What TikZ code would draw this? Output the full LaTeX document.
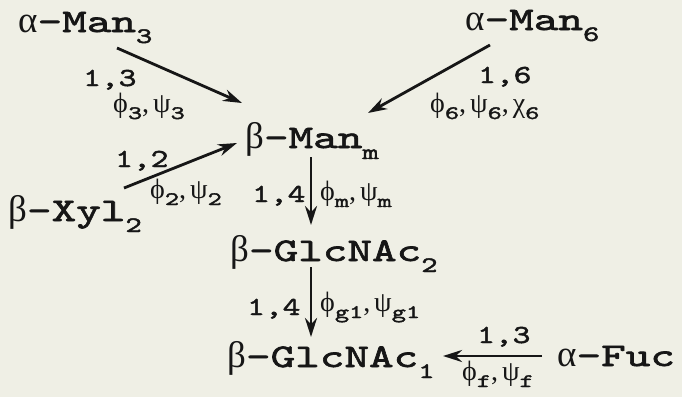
\documentclass[tikz,border=0pt]{standalone}
\usepackage{fontspec}
\newfontfamily\sugarmono[FakeStretch=1.42,FakeBold=2]{lmmono10-regular.otf}
\newfontfamily\linkmono[FakeStretch=1.3,FakeBold=1.8]{lmmono10-regular.otf}
\newfontfamily\grk{Liberation Serif}
\usetikzlibrary{arrows.meta,calc}
\definecolor{paper}{RGB}{239,239,229}
\definecolor{ink}{RGB}{22,22,22}

\newcommand{\sugarfont}{\fontsize{33}{33}\selectfont\sugarmono}
\newcommand{\linkfont}{\fontsize{26}{26}\selectfont\linkmono}
\newcommand{\anglefont}{\fontsize{28}{28}\selectfont\grk}
\newcommand{\gk}[1]{{\fontsize{37}{37}\selectfont\grk #1}}
\newcommand{\bigsub}[1]{\raisebox{-11pt}{\fontsize{22}{22}\selectfont\sugarmono #1}}
\newcommand{\lsub}[1]{\raisebox{-7pt}{\fontsize{19}{19}\selectfont\sugarmono #1}}
\newcommand{\sep}{,\hspace{4pt}}

\begin{document}
\begin{tikzpicture}[
    x=1pt, y=-1pt,
    sugar/.style={anchor=base west, inner sep=0pt, text=ink, font=\sugarfont},
    link/.style={anchor=base west, inner sep=0pt, text=ink, font=\linkfont},
    angle/.style={anchor=base west, inner sep=0pt, text=ink, font=\anglefont},
    arrow/.style={-{Stealth[length=19pt,width=12pt]}, line width=2.8pt, draw=ink}
]

% Paper
\fill[paper] (0,0) rectangle (682,397);
\useasboundingbox (0,0) rectangle (682,397);

% Residues
\node[sugar] (man3) at (18,32) {\gk{α}-Man\bigsub{3}};
\node[sugar] (man6) at (465,30) {\gk{α}-Man\bigsub{6}};
\node[sugar] (manm) at (245,148) {\gk{β}-Man\bigsub{m}};
\node[sugar] (xyl) at (8,221) {\gk{β}-Xyl\bigsub{2}};
\node[sugar] (glc2) at (230,261) {\gk{β}-GlcNAc\bigsub{2}};
\node[sugar] (glc1) at (227,367) {\gk{β}-GlcNAc\bigsub{1}};
\node[sugar] (fuc) at (557,366) {\gk{α}-Fuc};

% Linkages
\draw[arrow] ([shift={(99,16)}]man3.base west) -- ([shift={(-3,-45)}]manm.base west);
\draw[arrow] ([shift={(25,15)}]man6.base west) -- ([shift={(123,-35)}]manm.base west);
\draw[arrow] ([shift={(116,-33)}]xyl.base west) -- ([shift={(-8,-5)}]manm.base west);
\draw[arrow] ([shift={(66,9)}]manm.base west) -- ([shift={(81,-36)}]glc2.base west);
\draw[arrow] ([shift={(81,6)}]glc2.base west) -- ([shift={(84,-30)}]glc1.base west);
\draw[arrow] ([shift={(-15,-10)}]fuc.base west) -- ([shift={(216,-11)}]glc1.base west);

% Linkage labels
\node[link] (pos3) at (83,86) {1,3};
\node[angle] (tor3) at (113,112) {ϕ\lsub{3}\sep ψ\lsub{3}};
\node[link] (pos6) at (478,83) {1,6};
\node[angle] (tor6) at (430,112) {ϕ\lsub{6}\sep ψ\lsub{6}\sep χ\lsub{6}};
\node[link] (pos2) at (115,167) {1,2};
\node[angle] (tor2) at (150,198) {ϕ\lsub{2}\sep ψ\lsub{2}};
\node[link] (posm) at (252,202) {1,4};
\node[angle] (torm) at (320,200) {ϕ\lsub{m}\sep ψ\lsub{m}};
\node[link] (posg) at (247,315) {1,4};
\node[angle] (torg) at (320,311) {ϕ\lsub{g1}\sep ψ\lsub{g1}};
\node[link] (posf) at (477,343) {1,3};
\node[angle] (torf) at (462,380) {ϕ\lsub{f}\sep ψ\lsub{f}};

\end{tikzpicture}
\end{document}
